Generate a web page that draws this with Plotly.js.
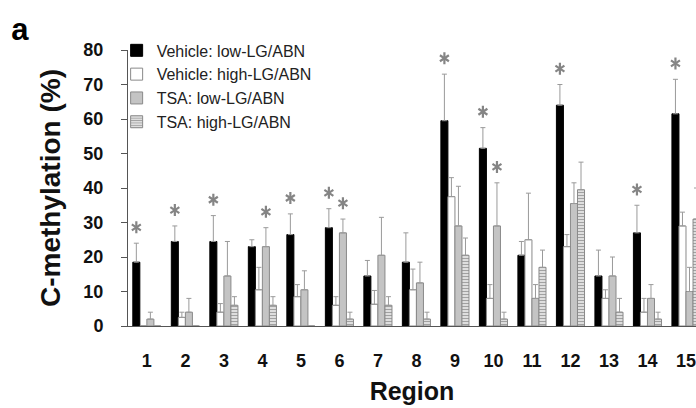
<!DOCTYPE html>
<html>
<head>
<meta charset="utf-8">
<script src="https://cdn.plot.ly/plotly-3.0.1.min.js"></script>
<style>html,body{margin:0;padding:0;background:#fff;}#chart{width:696px;height:408px;}</style>
</head>
<body>
<div id="chart"></div>
<script>
// ---- data ----
const regions = [1, 2, 3, 4, 5, 6, 7, 8, 9, 10, 11, 12, 13, 14, 15];
const tickLabels = ["1", "2", "3", "4", "5", "6", "7", "8", "9", "10", "11", "12", "13", "14", "15"];
const seriesNames = ["Vehicle: low-LG/ABN", "Vehicle: high-LG/ABN", "TSA: low-LG/ABN", "TSA: high-LG/ABN"];

const vehicleLow     = [18.5, 24.5, 24.5, 23, 26.5, 28.5, 14.5, 18.5, 59.5, 51.5, 20.5, 64, 14.5, 27, 61.5];
const vehicleLowErr  = [5.5, 4.5, 7.5, 2, 6, 5.5, 4.5, 8.5, 13.5, 6, 4, 6, 7.5, 8, 10];
const vehicleHigh    = [0, 2.5, 4, 10.5, 8.5, 6, 6.3, 10.5, 37.5, 8, 25, 23, 8, 4, 29];
const vehicleHighErr = [0, 1.5, 2.5, 6.5, 3.5, 2.5, 4, 6, 5.5, 4, 13.5, 3.5, 2.5, 4, 4];
const tsaLow         = [2, 4, 14.5, 23, 10.5, 27, 20.5, 12.5, 29, 29, 8, 35.5, 14.5, 8, 10];
const tsaLowErr      = [2, 4, 10, 5.5, 5.5, 4, 11, 6, 11.5, 12.5, 4, 6, 5.5, 4, 7];
const tsaHigh        = [0, 0, 6, 6, 0, 2, 6, 2, 20.5, 2, 17, 39.5, 4, 2, 31];
const tsaHighErr     = [0, 0, 2.5, 2.5, 0, 2, 2.5, 2, 5, 2, 5, 8, 4, 2, 9];

// significance asterisks (1 = asterisk above that bar)
const starVehicleLow = [1, 1, 1, 0, 1, 1, 0, 0, 1, 1, 0, 1, 0, 1, 1];
const starTsaLow     = [0, 0, 0, 1, 0, 1, 0, 0, 0, 1, 0, 0, 0, 0, 0];

// ---- styling ----
const BARGAP = 0.27;
const NSER = 4;
const barW = (1 - BARGAP) / NSER;
const errStyle = (arr) => ({type: 'data', array: arr.map(v => v > 0 ? v : null), arrayminus: arr.map(() => 0),
  symmetric: false, visible: true, color: '#9a9a9a', thickness: 1, width: 2.5});

const bars = [
  {name: seriesNames[0], y: vehicleLow, err: vehicleLowErr, marker: {color: '#000000', line: {color: '#000', width: 1}}},
  {name: seriesNames[1], y: vehicleHigh, err: vehicleHighErr, marker: {color: '#ffffff', line: {color: '#8a8a8a', width: 1}}},
  {name: seriesNames[2], y: tsaLow, err: tsaLowErr, marker: {color: '#c4c4c4', line: {color: '#8a8a8a', width: 1}}},
  {name: seriesNames[3], y: tsaHigh, err: tsaHighErr, marker: {color: '#dadada', line: {color: '#8a8a8a', width: 1},
     pattern: {shape: '-', fgcolor: '#9a9a9a', bgcolor: '#dedede', size: 3, solidity: 0.3}}}
];

const traces = bars.map(b => ({
  type: 'bar', x: regions, y: b.y, name: b.name, marker: b.marker,
  error_y: errStyle(b.err), hoverinfo: 'x+y+name'
}));

// asterisk positions derived from bar layout
function starPoints(flags, vals, errs, seriesIdx) {
  const xs = [], ys = [];
  flags.forEach((f, i) => {
    if (f) {
      xs.push(regions[i] + (seriesIdx - (NSER - 1) / 2) * barW);
      ys.push(vals[i] + errs[i] + 4.6);
    }
  });
  return {xs, ys};
}
const s1 = starPoints(starVehicleLow, vehicleLow, vehicleLowErr, 0);
const s3 = starPoints(starTsaLow, tsaLow, tsaLowErr, 2);
const starX = s1.xs.concat(s3.xs), starY = s1.ys.concat(s3.ys);
['y-up-open', 'y-down-open'].forEach(sym => {
  traces.push({type: 'scatter', mode: 'markers', x: starX, y: starY, showlegend: false, hoverinfo: 'skip',
    marker: {symbol: sym, size: 7.5, color: '#858585', line: {color: '#858585', width: 2.2}}});
});

const FONT = 'Liberation Sans, Arial, sans-serif';
const layout = {
  width: 696, height: 408,
  margin: {l: 128, r: 0, t: 50, b: 82, pad: 0},
  paper_bgcolor: '#fff', plot_bgcolor: '#fff',
  barmode: 'group', bargap: BARGAP, bargroupgap: 0,
  font: {family: FONT, color: '#111'},
  title: {text: 'a', x: 0.016, xanchor: 'left', xref: 'container', y: 0.955, yanchor: 'top', yref: 'container',
    font: {family: FONT, size: 31, weight: 'bold', color: '#000'}},
  xaxis: {
    range: [0.51, 15.26], tickvals: regions, ticktext: tickLabels,
    showline: true, linecolor: '#555', linewidth: 1, ticks: '', showgrid: false, zeroline: false,
    ticklabelstandoff: 18, ticklabeloverflow: 'allow',
    tickfont: {family: FONT, size: 18, weight: 'bold', color: '#111'},
    title: {text: 'Region', font: {family: FONT, size: 25, weight: 'bold', color: '#111'}, standoff: 12}
  },
  yaxis: {
    range: [0, 80], dtick: 10, tick0: 0,
    showline: true, linecolor: '#555', linewidth: 1, ticks: 'outside', ticklen: 6, tickcolor: '#555',
    showgrid: false, zeroline: false, ticklabelstandoff: 14,
    tickfont: {family: FONT, size: 18, weight: 'bold', color: '#111'},
    title: {text: 'C-methylation (%)', font: {family: FONT, size: 28, weight: 'bold', color: '#111'}, standoff: 14}
  },
  legend: {x: -0.02, xanchor: 'left', y: 1.06, yanchor: 'top', bgcolor: 'rgba(0,0,0,0)',
    font: {family: FONT, size: 16, color: '#222'}, tracegroupgap: 0, traceorder: 'normal'},
  showlegend: true
};

Plotly.newPlot('chart', traces, layout, {displayModeBar: false, staticPlot: true});
</script>
</body>
</html>
